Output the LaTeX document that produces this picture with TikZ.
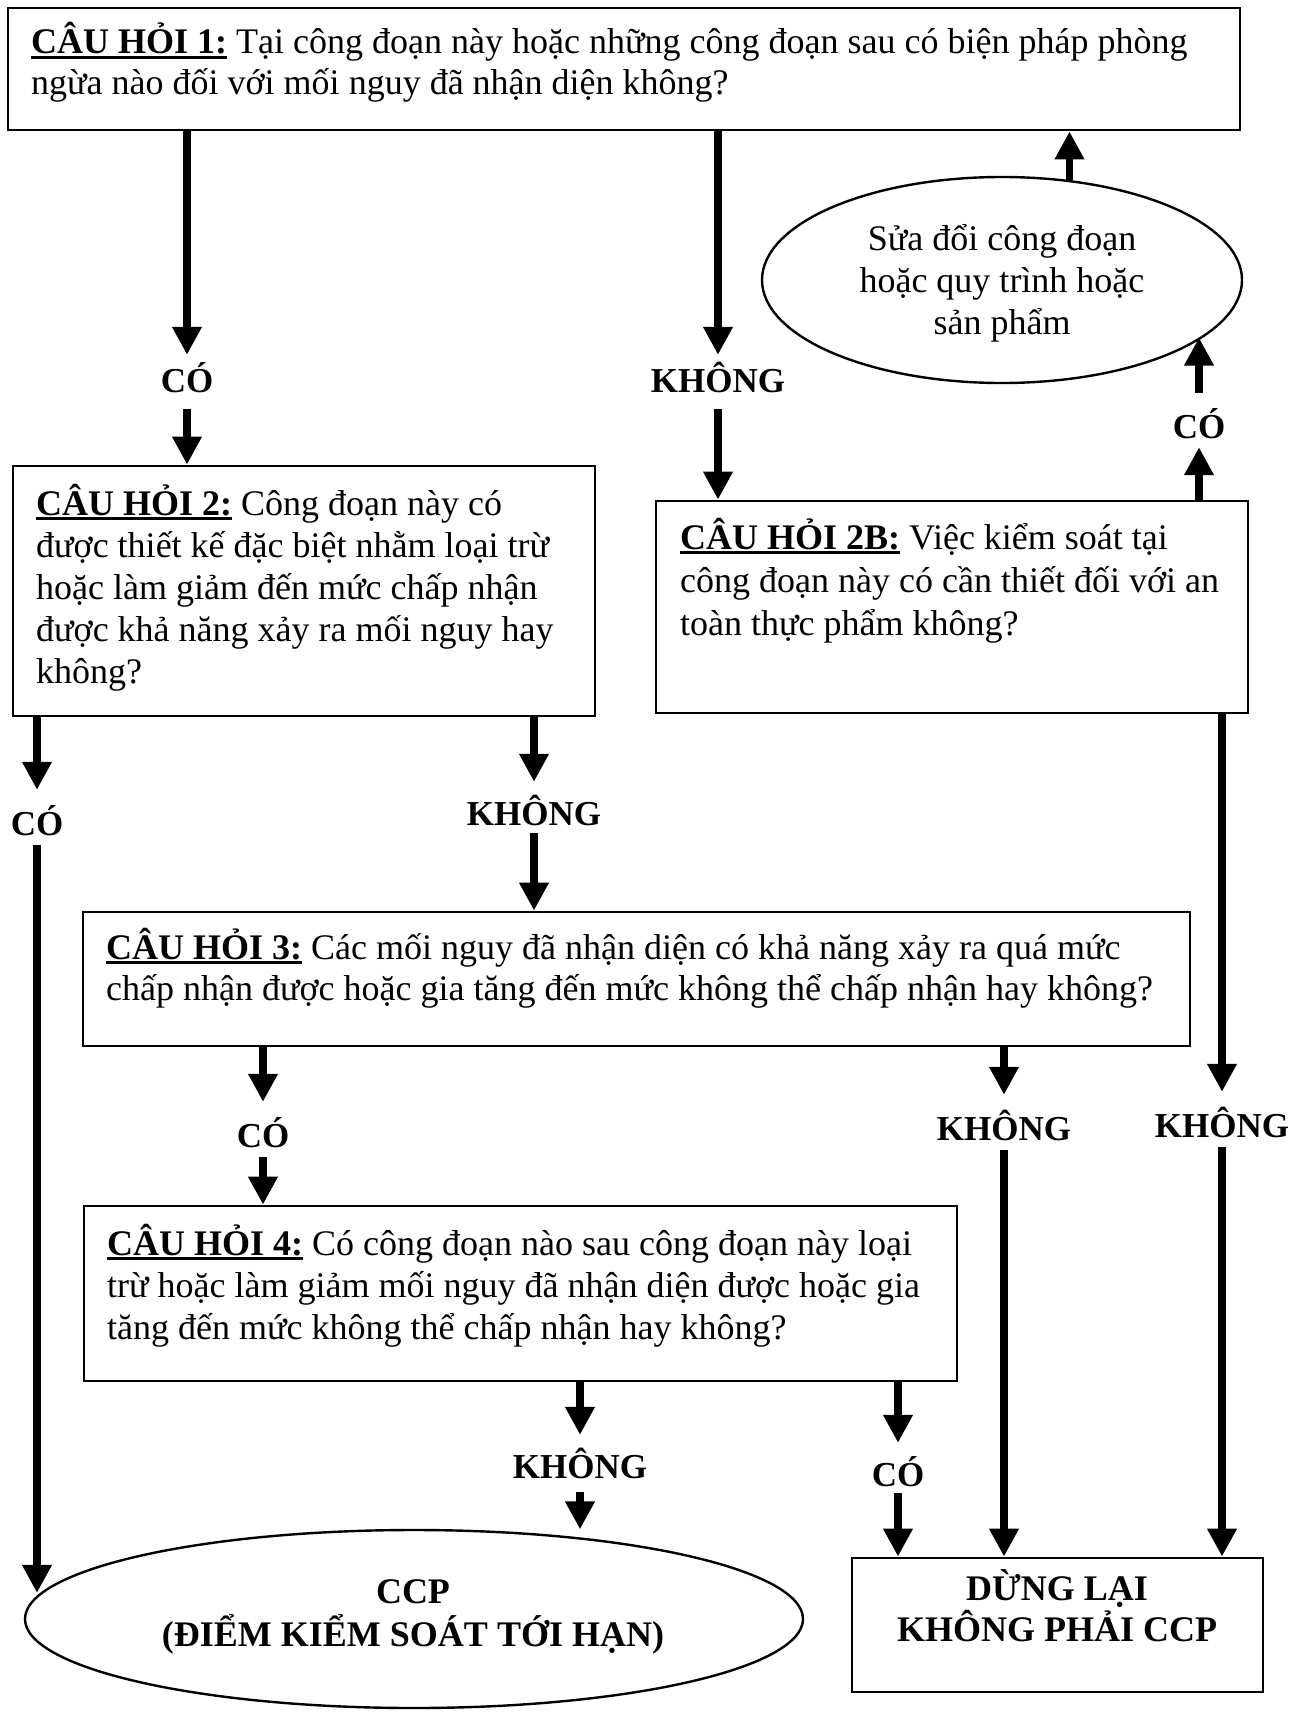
\documentclass[tikz,border=0pt]{standalone}
\usepackage{fontspec}
\setmainfont{Liberation Serif}
\usetikzlibrary{arrows.meta,shapes.geometric}
\newsavebox\qb
\newcommand\qhead[1]{\sbox\qb{\bfseries #1}\rlap{\rule[-5pt]{\wd\qb}{2.6pt}}\usebox\qb}
\newcommand\lns[2]{\vtop{\baselineskip=#1pt\lineskiplimit=-100pt\lineskip=0pt #2}}
\newcommand\clns[2]{\vtop{\baselineskip=#1pt\lineskiplimit=-100pt\lineskip=0pt\halign{\hfil##\hfil\cr#2}}}
\begin{document}
\begin{tikzpicture}[x=1pt,y=-1pt,
  qbox/.style={draw, rectangle, line width=2.8pt, inner sep=0pt},
  oval/.style={draw, ellipse, line width=2.4pt, inner sep=0pt},
  txt/.style={inner sep=0pt, font=\fontsize{36}{42}\selectfont},
  lab/.style={inner sep=0pt, font=\fontsize{35}{42}\selectfont\bfseries, text height=36pt, text depth=0pt},
  arr/.style={line width=7.5pt, -{Triangle[length=28pt,width=28pt]}}]
\useasboundingbox (0,0) rectangle (1301,1712);
\fill[white] (0,0) rectangle (1301,1712);

% boxes
\node[qbox, minimum width=1232pt, minimum height=122pt] (q1) at (624,69) {};
\node[qbox, minimum width=582pt, minimum height=250pt] (q2) at (304,591) {};
\node[qbox, minimum width=592pt, minimum height=212pt] (q2b) at (952,607) {};
\node[qbox, minimum width=1107pt, minimum height=134pt] (q3) at (636.5,979) {};
\node[qbox, minimum width=873pt, minimum height=175pt] (q4) at (520.5,1293.5) {};
\node[qbox, minimum width=411pt, minimum height=134pt] (stop) at (1057.5,1625) {};
\node[oval, minimum width=480pt, minimum height=206pt] (mod) at (1002,280) {};
\node[oval, minimum width=778pt, minimum height=178pt] (ccp) at (414,1619) {};

% texts
\node[txt, anchor=base west] (t1) at (31,54) {\lns{41}{\hbox{\qhead{CÂU HỎI 1:} Tại công đoạn này hoặc những công đoạn sau có biện pháp phòng}\hbox{ngừa nào đối với mối nguy đã nhận diện không?}}};
\node[txt, anchor=base west] (t2) at (36,515) {\lns{42.2}{\hbox{\qhead{CÂU HỎI 2:} Công đoạn này có}\hbox{được thiết kế đặc biệt nhằm loại trừ}\hbox{hoặc làm giảm đến mức chấp nhận}\hbox{được khả năng xảy ra mối nguy hay}\hbox{không?}}};
\node[txt, anchor=base west] (t2b) at (680,549) {\lns{43}{\hbox{\qhead{CÂU HỎI 2B:} Việc kiểm soát tại}\hbox{công đoạn này có cần thiết đối với an}\hbox{toàn thực phẩm không?}}};
\node[txt, anchor=base west] (t3) at (106,959) {\lns{41}{\hbox{\qhead{CÂU HỎI 3:} Các mối nguy đã nhận diện có khả năng xảy ra quá mức}\hbox{chấp nhận được hoặc gia tăng đến mức không thể chấp nhận hay không?}}};
\node[txt, anchor=base west] (t4) at (107,1255) {\lns{42}{\hbox{\qhead{CÂU HỎI 4:} Có công đoạn nào sau công đoạn này loại}\hbox{trừ hoặc làm giảm mối nguy đã nhận diện được hoặc gia}\hbox{tăng đến mức không thể chấp nhận hay không?}}};
\node[txt, anchor=base] (tmod) at (1002,251) {\clns{42}{Sửa đổi công đoạn\cr hoặc quy trình hoặc\cr sản phẩm\cr}};
\node[txt, font=\fontsize{36}{42}\selectfont\bfseries, anchor=base] (tccp) at (413,1603) {\clns{43}{CCP\cr (ĐIỂM KIỂM SOÁT TỚI HẠN)\cr}};
\node[txt, font=\fontsize{36}{42}\selectfont\bfseries, anchor=base] (tstop) at (1057,1600) {\clns{41}{DỪNG LẠI\cr KHÔNG PHẢI CCP\cr}};

% labels
\node[lab, text height=20pt, minimum height=54pt] (lc1) at (187,382) {CÓ};
\node[lab, text height=20pt, minimum height=54pt] (lk1) at (718,382) {KHÔNG};
\node[lab, minimum height=54pt] (lc2) at (1199,420) {CÓ};
\node[lab, minimum height=55pt] (lc3) at (37,817.5) {CÓ};
\node[lab, minimum height=51pt] (lk2) at (534,807.5) {KHÔNG};
\node[lab, minimum height=55pt] (lc4) at (263,1129.5) {CÓ};
\node[lab, minimum height=55pt] (lk3) at (1004,1122.5) {KHÔNG};
\node[lab, minimum height=55pt] (lk4) at (1222,1119.5) {KHÔNG};
\node[lab, text height=30pt, minimum height=57pt] (lk5) at (580,1463.5) {KHÔNG};
\node[lab, minimum height=50pt] (lc5) at (898,1468) {CÓ};

% connectors
\draw[arr] (q1.south -| lc1) -- (lc1.north);
\draw[arr] (lc1.south) -- (lc1.south |- q2.north);
\draw[arr] (q1.south -| lk1) -- (lk1.north);
\draw[arr] (lk1.south) -- (lk1.south |- q2b.north);
\draw[arr] (q2b.north -| lc2) -- (lc2.south);
\draw[arr] (lc2.north) -- (lc2.north |- mod.-16.6);
\draw[arr] (mod.56.7) -- (mod.56.7 |- q1.south);
\draw[arr] (q2.south -| lc3) -- (lc3.north);
\draw[arr] (lc3.south) -- (lc3.south |- ccp.176.5);
\draw[arr] (q2.south -| lk2) -- (lk2.north);
\draw[arr] (lk2.south) -- (lk2.south |- q3.north);
\draw[arr] (q3.south -| lc4) -- (lc4.north);
\draw[arr] (lc4.south) -- (lc4.south |- q4.north);
\draw[arr] (q3.south -| lk3) -- (lk3.north);
\draw[arr] (lk3.south) -- (lk3.south |- stop.north);
\draw[arr] (q2b.south -| lk4) -- (lk4.north);
\draw[arr] (lk4.south) -- (lk4.south |- stop.north);
\draw[arr] (q4.south -| lk5) -- (lk5.north);
\draw[arr] (lk5.south) -- (lk5.south |- ccp.64.1);
\draw[arr] (q4.south -| lc5) -- (lc5.north);
\draw[arr] (lc5.south) -- (lc5.south |- stop.north);
\end{tikzpicture}
\end{document}
